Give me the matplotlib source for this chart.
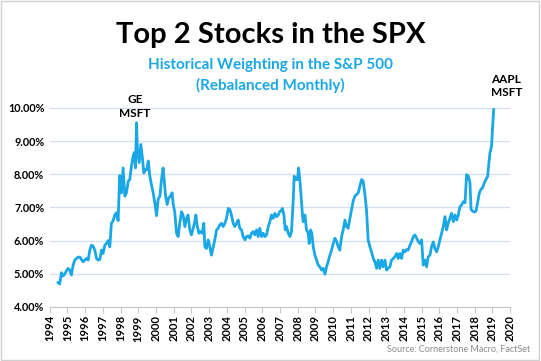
import matplotlib.pyplot as plt
from matplotlib.ticker import FuncFormatter, MultipleLocator
from matplotlib.patches import Rectangle

years = [
    1994.47, 1994.56, 1994.66, 1994.75, 1994.85, 1994.94, 1995.04, 1995.13, 1995.22, 1995.32,
    1995.41, 1995.51, 1995.60, 1995.70, 1995.79, 1995.88, 1995.98, 1996.07, 1996.17, 1996.26,
    1996.35, 1996.45, 1996.54, 1996.64, 1996.73, 1996.83, 1996.92, 1997.01, 1997.11, 1997.20,
    1997.30, 1997.39, 1997.48, 1997.58, 1997.67, 1997.77, 1997.86, 1997.95, 1998.05, 1998.14,
    1998.24, 1998.33, 1998.43, 1998.52, 1998.61, 1998.71, 1998.77, 1998.84, 1998.90, 1998.95,
    1999.05, 1999.14, 1999.24, 1999.31, 1999.41, 1999.48, 1999.56, 1999.65, 1999.74, 1999.84,
    1999.93, 2000.03, 2000.12, 2000.22, 2000.31, 2000.40, 2000.46, 2000.54, 2000.63, 2000.72,
    2000.82, 2000.91, 2000.97, 2001.06, 2001.16, 2001.25, 2001.34, 2001.44, 2001.53, 2001.63,
    2001.72, 2001.81, 2001.91, 2002.00, 2002.10, 2002.19, 2002.25, 2002.32, 2002.42, 2002.51,
    2002.61, 2002.70, 2002.76, 2002.85, 2002.95, 2003.04, 2003.13, 2003.23, 2003.32, 2003.42,
    2003.51, 2003.60, 2003.70, 2003.79, 2003.89, 2003.98, 2004.08, 2004.17, 2004.26, 2004.36,
    2004.45, 2004.55, 2004.64, 2004.73, 2004.83, 2004.92, 2005.02, 2005.11, 2005.21, 2005.30,
    2005.39, 2005.49, 2005.58, 2005.68, 2005.77, 2005.86, 2005.96, 2006.05, 2006.15, 2006.24,
    2006.34, 2006.43, 2006.52, 2006.62, 2006.71, 2006.81, 2006.90, 2006.99, 2007.09, 2007.14,
    2007.22, 2007.30, 2007.37, 2007.47, 2007.56, 2007.65, 2007.75, 2007.80, 2007.90, 2007.99,
    2008.05, 2008.12, 2008.18, 2008.26, 2008.31, 2008.41, 2008.50, 2008.60, 2008.65, 2008.73,
    2008.80, 2008.88, 2008.97, 2009.07, 2009.16, 2009.25, 2009.35, 2009.44, 2009.54, 2009.63,
    2009.72, 2009.82, 2009.91, 2010.01, 2010.10, 2010.20, 2010.29, 2010.38, 2010.48, 2010.57,
    2010.67, 2010.76, 2010.85, 2010.95, 2011.04, 2011.14, 2011.23, 2011.33, 2011.42, 2011.51,
    2011.61, 2011.70, 2011.80, 2011.89, 2011.98, 2012.08, 2012.17, 2012.27, 2012.36, 2012.46,
    2012.55, 2012.64, 2012.74, 2012.83, 2012.93, 2013.02, 2013.11, 2013.21, 2013.30, 2013.40,
    2013.49, 2013.59, 2013.68, 2013.77, 2013.87, 2013.96, 2014.06, 2014.15, 2014.24, 2014.34,
    2014.43, 2014.53, 2014.62, 2014.72, 2014.81, 2014.90, 2015.00, 2015.09, 2015.19, 2015.28,
    2015.37, 2015.47, 2015.56, 2015.66, 2015.75, 2015.85, 2015.94, 2016.03, 2016.13, 2016.22,
    2016.32, 2016.41, 2016.50, 2016.60, 2016.69, 2016.79, 2016.88, 2016.98, 2017.07, 2017.16,
    2017.26, 2017.35, 2017.45, 2017.54, 2017.64, 2017.73, 2017.79, 2017.88, 2017.97, 2018.07,
    2018.16, 2018.26, 2018.35, 2018.44, 2018.54, 2018.63, 2018.73, 2018.78, 2018.86, 2018.95,
    2019.01, 2019.07,
]

weights = [
    4.73, 4.69, 5.03, 4.93, 4.99, 5.09, 5.16, 5.11, 4.96, 5.26,
    5.41, 5.46, 5.50, 5.50, 5.43, 5.36, 5.41, 5.46, 5.41, 5.71,
    5.86, 5.83, 5.71, 5.46, 5.41, 5.43, 5.71, 5.61, 5.86, 5.91,
    6.00, 5.81, 6.52, 6.60, 6.77, 6.84, 6.60, 7.96, 7.44, 8.19,
    7.34, 7.44, 7.79, 7.84, 8.24, 8.55, 8.65, 8.19, 9.55, 8.75,
    8.35, 8.90, 8.45, 8.04, 8.14, 8.14, 8.40, 7.94, 7.69, 7.44,
    7.14, 6.75, 7.24, 7.34, 7.84, 8.19, 7.84, 7.34, 7.09, 7.29,
    7.34, 7.44, 7.10, 6.85, 6.22, 6.12, 6.52, 6.87, 6.77, 6.42,
    6.67, 6.77, 6.32, 6.17, 6.37, 6.57, 6.77, 6.47, 6.22, 6.27,
    6.22, 6.52, 5.81, 5.76, 6.02, 5.81, 5.56, 5.81, 6.02, 6.32,
    6.37, 6.47, 6.52, 6.42, 6.52, 6.67, 6.97, 6.94, 6.77, 6.52,
    6.42, 6.52, 6.62, 6.37, 6.32, 6.12, 6.02, 6.12, 6.14, 6.07,
    6.22, 6.27, 6.17, 6.32, 6.12, 6.37, 6.12, 6.22, 6.12, 6.17,
    6.42, 6.57, 6.77, 6.67, 6.82, 6.72, 6.77, 6.87, 6.92, 6.97,
    6.77, 6.32, 6.42, 6.22, 6.12, 6.27, 7.22, 7.94, 7.84, 7.84,
    8.19, 7.84, 7.44, 6.84, 6.57, 6.77, 6.32, 6.22, 5.91, 6.32,
    6.22, 5.81, 5.56, 5.41, 5.26, 5.21, 5.11, 5.16, 4.99, 5.21,
    5.36, 5.56, 5.71, 5.91, 6.07, 5.97, 5.81, 5.71, 6.12, 6.32,
    6.62, 6.42, 6.37, 6.67, 6.92, 7.20, 7.34, 7.39, 7.44, 7.64,
    7.84, 7.79, 7.39, 6.90, 6.02, 5.81, 5.66, 5.46, 5.36, 5.16,
    5.41, 5.16, 5.41, 5.21, 5.41, 5.11, 5.16, 5.21, 5.41, 5.46,
    5.51, 5.61, 5.46, 5.61, 5.46, 5.71, 5.66, 5.73, 5.71, 5.86,
    5.96, 6.12, 6.17, 6.07, 5.97, 5.91, 6.02, 5.26, 5.41, 5.21,
    5.51, 5.56, 5.81, 5.96, 5.76, 5.66, 5.81, 6.02, 6.22, 6.42,
    6.72, 6.32, 6.52, 6.67, 6.82, 6.57, 6.77, 6.62, 6.77, 7.02,
    7.07, 7.17, 7.14, 7.99, 7.94, 7.74, 6.94, 6.89, 6.86, 6.89,
    7.14, 7.44, 7.54, 7.59, 7.74, 7.84, 7.94, 8.24, 8.65, 8.85,
    9.45, 9.95,
]

year_ticks = list(range(1994, 2021))

blue = '#1aa7e6'
plt.rcParams['font.family'] = ['Lato', 'DejaVu Sans']

fig = plt.figure(figsize=(5.41, 3.61), dpi=100)
ax = fig.add_axes([0.092, 0.150, 0.851, 0.551])

ax.plot(years, weights, color=blue, lw=2.0, solid_joinstyle='round')

ax.set_xlim(1994, 2020)
ax.set_ylim(4, 10)
ax.set_xticks(year_ticks)
ax.set_xticklabels([str(y) for y in year_ticks], rotation=90, fontsize=8, fontweight='bold')
ax.yaxis.set_major_locator(MultipleLocator(1))
ax.yaxis.set_major_formatter(FuncFormatter(lambda v, p: f'{v:.2f}%'))
for lab in ax.get_yticklabels():
    lab.set_fontweight('bold')
    lab.set_fontsize(7.8)

ax.grid(axis='y', color='#d6dff0', lw=0.9)
ax.set_axisbelow(True)
for s in ['top', 'right', 'left']:
    ax.spines[s].set_visible(False)
ax.spines['bottom'].set_color('#c8c8c8')
ax.tick_params(axis='y', length=0, pad=4)
ax.tick_params(axis='x', length=4, color='#c8c8c8', pad=2)

ax.annotate('GE\nMSFT', xy=(1998.9, 9.55), xytext=(-1, 3), textcoords='offset points',
            ha='center', va='bottom', fontsize=8.5, fontweight='bold', linespacing=1.3)
ax.annotate('AAPL\nMSFT', xy=(2019.07, 9.95), xytext=(9, 8), textcoords='offset points',
            ha='center', va='bottom', fontsize=8.5, fontweight='bold', linespacing=1.3,
            annotation_clip=False)

fig.text(0.5, 0.903, 'Top 2 Stocks in the SPX', ha='center', va='center',
         fontsize=21, fontweight='bold')
fig.text(0.5, 0.791, 'Historical Weighting in the S&P 500\n(Rebalanced Monthly)',
         ha='center', va='center', fontsize=11, fontweight='bold', color=blue, linespacing=1.45)
fig.text(0.98, 0.02, 'Source: Cornerstone Macro, FactSet', ha='right', va='bottom',
         fontsize=6.5, color='#8c8c8c')

fig.patches.append(Rectangle((0.002, 0.003), 0.995, 0.994, transform=fig.transFigure,
                             fill=False, edgecolor='#d0d0d0', lw=1))

fig.savefig('out.png', dpi=100)
